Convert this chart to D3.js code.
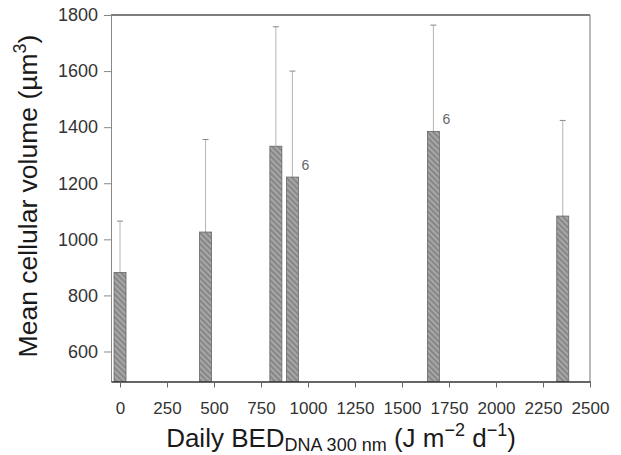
<!DOCTYPE html>
<html>
<head>
<meta charset="utf-8">
<script src="https://cdn.jsdelivr.net/npm/d3@7"></script>
<style>
  html, body { margin: 0; padding: 0; background: #fff; }
  svg { display: block; font-family: "Liberation Sans", Arial, Helvetica, sans-serif; }
</style>
</head>
<body>
<svg id="chart" width="621" height="455"></svg>
<script>
// Daily biologically effective dose (DNA, 300 nm) for each treatment
const doses = [0, 455, 829, 917, 1667, 2355];
// Mean cellular volume (µm³)
const meanVolume = [882, 1026, 1332, 1222, 1385, 1083];
// Upper error (one standard deviation)
const sdVolume = [183, 330, 426, 378, 379, 341];
// Sample size annotations (blank where not stated)
const sampleNote = ["", "", "", "6", "6", ""];

const xTicks = [0, 250, 500, 750, 1000, 1250, 1500, 1750, 2000, 2250, 2500];
const yTicks = [600, 800, 1000, 1200, 1400, 1600, 1800];

const svg = d3.select("#chart");

const plotL = 111, plotR = 590, plotT = 15, plotB = 381.5;
const x = d3.scaleLinear().domain([-48, 2500]).range([plotL, plotR]);
const y = d3.scaleLinear().domain([493, 1800]).range([plotB, plotT]);

// diagonal hatching for the bars
const defs = svg.append("defs");
const pat = defs.append("pattern")
  .attr("id", "hatch")
  .attr("patternUnits", "userSpaceOnUse")
  .attr("width", 4).attr("height", 4)
  .attr("patternTransform", "rotate(-45)");
pat.append("rect").attr("width", 4).attr("height", 4).attr("fill", "#a6a6a6");
pat.append("rect").attr("width", 1.6).attr("height", 4).attr("fill", "#808080");

// plot frame (top and right)
svg.append("line")
  .attr("x1", plotL).attr("x2", plotR).attr("y1", plotT).attr("y2", plotT)
  .attr("stroke", "#555").attr("stroke-width", 1.3);
svg.append("line")
  .attr("x1", plotR).attr("x2", plotR).attr("y1", plotT).attr("y2", plotB)
  .attr("stroke", "#777").attr("stroke-width", 1);

const data = doses.map((d, i) => ({ dose: d, v: meanVolume[i], sd: sdVolume[i], note: sampleNote[i] }));
const barW = 12;

// error bars (upper only)
const eb = svg.append("g");
eb.selectAll("line.stem").data(data).join("line")
  .attr("class", "stem")
  .attr("x1", d => x(d.dose)).attr("x2", d => x(d.dose))
  .attr("y1", d => y(d.v)).attr("y2", d => y(d.v + d.sd))
  .attr("stroke", "#b4b4b4").attr("stroke-width", 1);
eb.selectAll("line.cap").data(data).join("line")
  .attr("class", "cap")
  .attr("x1", d => x(d.dose) - 3).attr("x2", d => x(d.dose) + 3)
  .attr("y1", d => y(d.v + d.sd)).attr("y2", d => y(d.v + d.sd))
  .attr("stroke", "#888").attr("stroke-width", 1);

// bars
svg.append("g").selectAll("rect").data(data).join("rect")
  .attr("x", d => x(d.dose) - barW / 2)
  .attr("width", barW)
  .attr("y", d => y(d.v))
  .attr("height", d => plotB - y(d.v))
  .attr("fill", "url(#hatch)")
  .attr("stroke", "#666").attr("stroke-width", 0.8);

// sample size notes
svg.append("g").selectAll("text").data(data.filter(d => d.note)).join("text")
  .attr("x", d => x(d.dose) + barW / 2 + 3)
  .attr("y", d => y(d.v) - 7)
  .attr("font-size", 14)
  .attr("fill", "#666")
  .text(d => d.note);

// axes
const yAxis = svg.append("g")
  .attr("transform", `translate(${plotL},0)`)
  .call(d3.axisLeft(y).tickValues(yTicks).tickSize(7).tickSizeOuter(0).tickPadding(6).tickFormat(d3.format("d")));
yAxis.select(".domain").attr("stroke", "#888");
yAxis.selectAll(".tick line").attr("stroke", "#888");
yAxis.selectAll(".tick text").attr("font-size", 18).attr("fill", "#333")
  .attr("font-family", "'Liberation Sans', Arial, sans-serif");

const xAxis = svg.append("g")
  .attr("transform", `translate(0,${plotB})`)
  .call(d3.axisBottom(x).tickValues(xTicks).tickSize(6).tickSizeOuter(0).tickPadding(14).tickFormat(d3.format("d")));
xAxis.select(".domain").attr("stroke", "#333").attr("stroke-width", 1.3);
xAxis.selectAll(".tick line").attr("stroke", "#666");
xAxis.selectAll(".tick text").attr("font-size", 17).attr("fill", "#333")
  .attr("font-family", "'Liberation Sans', Arial, sans-serif");

// axis titles
const yTitle = svg.append("text")
  .attr("transform", "translate(37,196) rotate(-90)")
  .attr("text-anchor", "middle")
  .attr("font-size", 26.5)
  .attr("fill", "#1a1a1a");
yTitle.append("tspan").text("Mean cellular volume (µm");
yTitle.append("tspan").attr("dy", -11).attr("font-size", 18).text("3");
yTitle.append("tspan").attr("dy", 11).text(")");

const xTitle = svg.append("text")
  .attr("x", 341).attr("y", 447)
  .attr("text-anchor", "middle")
  .attr("font-size", 26)
  .attr("fill", "#1a1a1a");
xTitle.append("tspan").text("Daily BED");
xTitle.append("tspan").attr("dy", 3.5).attr("font-size", 18).text("DNA 300 nm");
xTitle.append("tspan").attr("dy", -3.5).text(" (J m");
xTitle.append("tspan").attr("dy", -11).attr("font-size", 18).text("−2");
xTitle.append("tspan").attr("dy", 11).text(" d");
xTitle.append("tspan").attr("dy", -11).attr("font-size", 18).text("−1");
xTitle.append("tspan").attr("dy", 11).text(")");
</script>
</body>
</html>
